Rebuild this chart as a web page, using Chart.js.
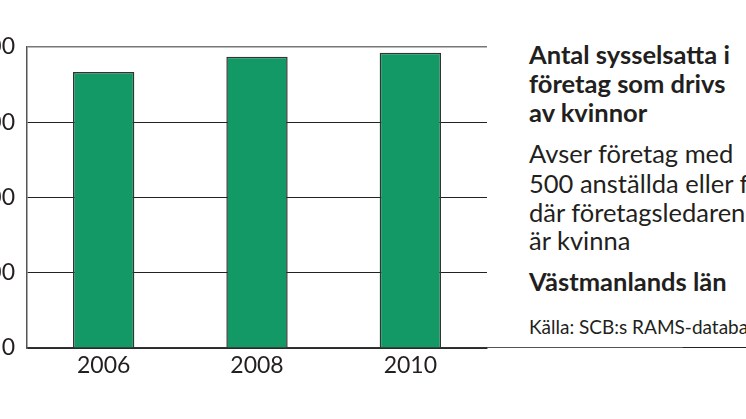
<!DOCTYPE html>
<html>
<head>
<meta charset="utf-8">
<script src="https://cdn.jsdelivr.net/npm/chart.js@4"></script>
<style>
  html, body { margin:0; padding:0; width:746px; height:419px; overflow:hidden; background:#fff; position:relative; }
  #c { position:absolute; left:-60px; top:0; }
  .t { position:absolute; left:529px; white-space:nowrap; color:#231f20; font-family:Lato, "Open Sans", sans-serif; font-size:25.5px; line-height:29px; }
  .b { font-weight:bold; }
  .s { font-size:19px; line-height:20px; }
  .line { position:absolute; height:1.6px; }
</style>
</head>
<body>
<canvas id="c" width="560" height="419"></canvas>
<div class="t b" style="top:40px">Antal sysselsatta i</div>
<div class="t b" style="top:68.6px">företag som drivs</div>
<div class="t b" style="top:97.6px">av kvinnor</div>
<div class="t" style="top:138.6px">Avser företag med</div>
<div class="t" style="top:168.6px">500 anställda eller färre</div>
<div class="t" style="top:197.6px">där företagsledaren</div>
<div class="t" style="top:225.6px">är kvinna</div>
<div class="t b" style="top:267.3px">Västmanlands län</div>
<div class="t s" style="top:316.6px">Källa: SCB:s RAMS-databas</div>
<div class="line" style="left:487px; width:196px; top:346.8px; background:#555;"></div>
<div class="line" style="left:683px; width:63px; top:346.8px; background:#222;"></div>
<script>
const categories = ["2006", "2008", "2010"];
const employed = [1834, 1936, 1962];
const yTicks = [0, 500, 1000, 1500, 2000];

const FONT = 'Lato, "Open Sans", sans-serif';
new Chart(document.getElementById('c'), {
  type: 'bar',
  data: {
    labels: categories,
    datasets: [{
      data: employed,
      backgroundColor: '#129966',
      borderColor: '#333',
      borderWidth: 1.5,
      barPercentage: 0.4,
      categoryPercentage: 1.0
    }]
  },
  options: {
    responsive: false,
    animation: false,
    devicePixelRatio: 1,
    layout: { padding: { top: 47, right: 13, bottom: 0, left: 0 } },
    plugins: { legend: { display: false }, tooltip: { enabled: false } },
    scales: {
      x: {
        grid: { display: false, drawTicks: false },
        border: { display: true, color: '#333', width: 1.5 },
        ticks: { color: '#231f20', font: { family: FONT, size: 23 }, padding: 4 },
        afterFit: s => { s.height = 71; }
      },
      y: {
        min: yTicks[0],
        max: yTicks[yTicks.length - 1],
        afterBuildTicks: s => { s.ticks = yTicks.map(v => ({ value: v })); },
        grid: {
          drawTicks: false,
          color: c => (c.tick && c.tick.value === yTicks[yTicks.length - 1]) ? '#777' : '#222',
          lineWidth: c => (c.tick && c.tick.value === yTicks[yTicks.length - 1]) ? 1.5 : 1
        },
        border: { display: true, color: '#555', width: 1.5 },
        ticks: { color: '#231f20', font: { family: FONT, size: 23 }, padding: 12 },
        afterFit: s => { s.width = 87; }
      }
    }
  }
});
</script>
</body>
</html>
